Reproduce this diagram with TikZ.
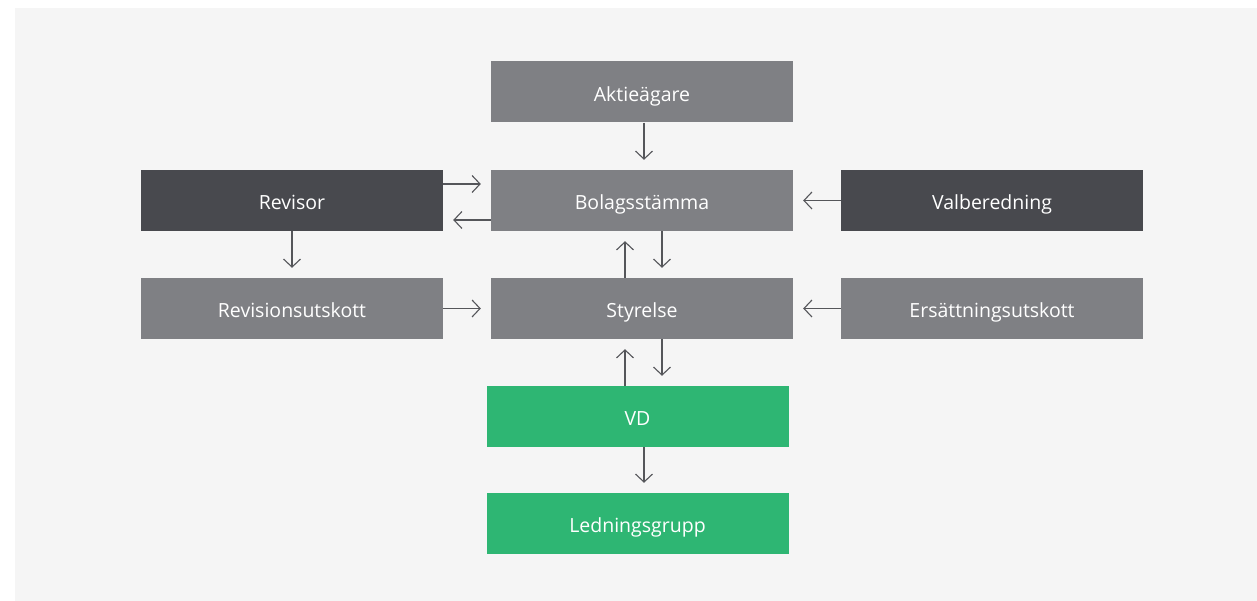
\documentclass[tikz,border=0pt]{standalone}
\usepackage{fontspec}
\setmainfont{Open Sans}
\usepackage{xcolor}
\usetikzlibrary{positioning,arrows.meta}

\definecolor{bggray}{HTML}{F5F5F5}
\definecolor{boxgray}{HTML}{7F8084}
\definecolor{boxdark}{HTML}{48494E}
\definecolor{boxgreen}{HTML}{2EB673}
\definecolor{linegray}{HTML}{55565A}

\begin{document}
\begin{tikzpicture}[x=1pt, y=1pt,
    box/.style={fill=boxgray, text=white, minimum width=302pt, minimum height=61pt,
        inner sep=0pt, text height=19pt, text depth=0pt,
        font=\fontsize{19.5}{23}\selectfont},
    darkbox/.style={box, fill=boxdark},
    greenbox/.style={box, fill=boxgreen},
    flow/.style={linegray, line width=1.1pt, shorten >=10pt,
        -{Straight Barb[length=8pt, width=17pt, line width=1.1pt]}}]

% background
\fill[white] (0,0) rectangle (1257,601);
\fill[bggray] (15,0) rectangle (1257,593);

% middle column
\node[box] (aktie) at (642,509) {Aktieägare};
\node[box] (bolag) at (642,400.5) {Bolagsstämma};
\node[box] (styrelse) at (642,292.5) {Styrelse};
\node[greenbox] (vd) at (637.5,184.5) {VD};
\node[greenbox] (ledning) at (637.5,77.5) {Ledningsgrupp};

% left and right columns
\node[darkbox] (revisor) at (292,400.5) {Revisor};
\node[box] (revision) at (292,292.5) {Revisionsutskott};
\node[darkbox] (valberedning) at (992,400.5) {Valberedning};
\node[box] (ersattning) at (992,292.5) {Ersättningsutskott};

% connectors
\draw[flow] ([xshift=2pt]aktie.south) -- ([xshift=2pt]aktie.south |- bolag.north);
\draw[flow] ([yshift=16.5pt]revisor.east) -- ([yshift=16.5pt]bolag.west);
\draw[flow] ([yshift=-19.5pt]bolag.west) -- ([yshift=-19.5pt]revisor.east);
\draw[flow] (valberedning.west) -- (bolag.east);
\draw[flow] ([xshift=20pt]bolag.south) -- ([xshift=20pt]styrelse.north);
\draw[flow] ([xshift=-17pt]styrelse.north) -- ([xshift=-17pt]bolag.south);
\draw[flow] (revisor.south) -- (revision.north);
\draw[flow] (revision.east) -- (styrelse.west);
\draw[flow] (ersattning.west) -- (styrelse.east);
\draw[flow] ([xshift=20pt]styrelse.south) -- ([xshift=20pt]styrelse.south |- vd.north);
\draw[flow] ([xshift=-17pt]styrelse.south |- vd.north) -- ([xshift=-17pt]styrelse.south);
\draw[flow] ([xshift=6.5pt]vd.south) -- ([xshift=6.5pt]ledning.north);

\end{tikzpicture}
\end{document}
